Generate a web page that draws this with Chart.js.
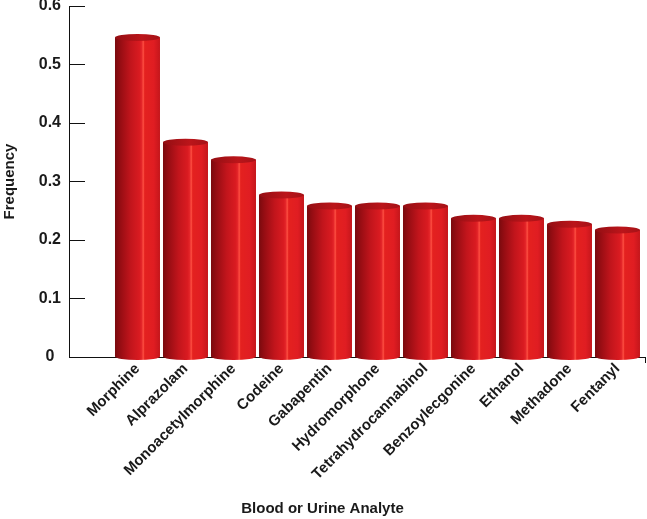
<!DOCTYPE html>
<html>
<head>
<meta charset="utf-8">
<script src="https://cdn.jsdelivr.net/npm/chart.js@4/dist/chart.umd.min.js"></script>
<style>
  html, body { margin: 0; padding: 0; background: #fff; }
</style>
</head>
<body>
<canvas id="mainChart" width="647" height="519"></canvas>
<script>
const ANALYTES = ['Morphine', 'Alprazolam', 'Monoacetylmorphine', 'Codeine', 'Gabapentin', 'Hydromorphone',
    'Tetrahydrocannabinol', 'Benzoylecgonine', 'Ethanol', 'Methadone', 'Fentanyl'];
const FREQUENCY = [0.546, 0.367, 0.337, 0.277, 0.258, 0.258, 0.258, 0.237, 0.237, 0.227, 0.217];
const Y_MIN = 0, Y_MAX = 0.6, Y_STEP = 0.1;

// x runs on a linear scale so the bars can sit off-centre like the original
const X_MIN = -1.427, X_MAX = 10.573;

Chart.defaults.font.family = "'Liberation Sans', Arial, sans-serif";
Chart.defaults.font.weight = 'bold';
Chart.defaults.font.size = 15;
Chart.defaults.color = '#1a1a1a';

// body + caps of each cylinder, using the bar elements the library laid out
const cylinders = {
    id: 'cylinders',
    afterDatasetsDraw(chart) {
        const ctx = chart.ctx;
        chart.getDatasetMeta(0).data.forEach(bar => {
            const { x, y, base, width } = bar.getProps(['x', 'y', 'base', 'width'], true);
            const l = x - width / 2, r = x + width / 2, rx = width / 2, ry = 3.5;

            const body = ctx.createLinearGradient(l, 0, r, 0);
            body.addColorStop(0, '#7a0a0e');
            body.addColorStop(0.12, '#960d13');
            body.addColorStop(0.35, '#c2151c');
            body.addColorStop(0.55, '#da1b21');
            body.addColorStop(0.6, '#e6282b');
            body.addColorStop(0.625, '#ff5244');
            body.addColorStop(0.66, '#e4211f');
            body.addColorStop(0.86, '#e01d22');
            body.addColorStop(1, '#c4161b');

            ctx.save();
            ctx.beginPath();
            ctx.moveTo(l, y);
            ctx.lineTo(l, base);
            ctx.ellipse(x, base, rx, ry, 0, Math.PI, 0, true);
            ctx.lineTo(r, y);
            ctx.closePath();
            ctx.fillStyle = body;
            ctx.fill();

            const top = ctx.createLinearGradient(l, 0, r, 0);
            top.addColorStop(0, '#940e13');
            top.addColorStop(0.6, '#bb151a');
            top.addColorStop(1, '#a51217');
            ctx.beginPath();
            ctx.ellipse(x, y, rx, ry, 0, 0, Math.PI * 2);
            ctx.fillStyle = top;
            ctx.fill();
            ctx.restore();
        });
    }
};

new Chart(document.getElementById('mainChart'), {
    type: 'bar',
    data: {
        datasets: [{
            data: FREQUENCY.map((v, i) => ({ x: i, y: v })),
            backgroundColor: 'rgba(0,0,0,0)',
            borderWidth: 0,
            barThickness: 45
        }]
    },
    options: {
        responsive: false,
        animation: false,
        layout: { padding: { left: 0, right: 2, top: 6, bottom: 0 }, autoPadding: false },
        plugins: {
            legend: { display: false },
            tooltip: { enabled: false },
            title: {
                display: true,
                position: 'bottom',
                text: 'Blood or Urine Analyte',
                color: '#1a1a1a',
                font: { size: 15, weight: 'bold' },
                padding: { top: 0, bottom: 1 }
            }
        },
        scales: {
            x: {
                type: 'linear',
                min: X_MIN,
                max: X_MAX,
                offset: false,
                afterBuildTicks: s => {
                    s.ticks = ANALYTES.map((_, i) => ({ value: i })).concat([{ value: X_MAX }]);
                },
                afterFit: s => {
                    s.height = 519 - 357 - 19;
                    s.paddingLeft = 0;
                    s.paddingRight = 0;
                },
                ticks: {
                    autoSkip: false,
                    minRotation: 45,
                    maxRotation: 45,
                    padding: -3,
                    font: { size: 15, weight: 'bold' },
                    callback: v => Number.isInteger(v) ? (ANALYTES[v] || '') : ''
                },
                grid: {
                    offset: false,
                    drawOnChartArea: false,
                    tickLength: 6,
                    color: c => (c.tick && c.tick.value === X_MAX) ? '#111' : 'rgba(0,0,0,0)'
                },
                border: { display: true, color: '#111', width: 1 }
            },
            y: {
                min: Y_MIN,
                max: Y_MAX,
                afterFit: s => {
                    s.width = 69;
                    s.paddingTop = 0;
                    s.paddingBottom = 0;
                },
                ticks: {
                    stepSize: Y_STEP,
                    padding: 24,
                    crossAlign: 'center',
                    font: { size: 16, weight: 'bold' }
                },
                grid: { drawOnChartArea: false, tickLength: -16, color: '#111' },
                border: { display: true, color: '#111', width: 1 },
                title: {
                    display: true,
                    text: 'Frequency',
                    color: '#1a1a1a',
                    font: { size: 15, weight: 'bold' },
                    padding: { top: 1, bottom: 0 }
                }
            }
        }
    },
    plugins: [cylinders]
});
</script>
</body>
</html>
